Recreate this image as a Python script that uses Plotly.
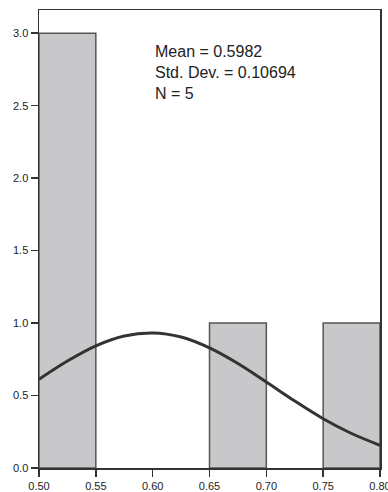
import plotly.graph_objects as go

# Histogram bins (left edge, right edge) and counts
bin_left = [0.50, 0.65, 0.75]
bin_right = [0.55, 0.70, 0.80]
counts = [3, 1, 1]

# Normal curve
curve_x = [0.500, 0.525, 0.550, 0.575, 0.600, 0.625, 0.650, 0.675, 0.700, 0.725, 0.750, 0.775, 0.800]
curve_y = [0.612, 0.738, 0.843, 0.911, 0.932, 0.904, 0.829, 0.721, 0.593, 0.462, 0.340, 0.238, 0.157]

stats_text = ["Mean = 0.5982", "Std. Dev. = 0.10694", "N = 5"]

x_ticks = [0.50, 0.55, 0.60, 0.65, 0.70, 0.75, 0.80]
y_ticks = [0.0, 0.5, 1.0, 1.5, 2.0, 2.5, 3.0]

centers = [(a + b) / 2 for a, b in zip(bin_left, bin_right)]
widths = [b - a for a, b in zip(bin_left, bin_right)]

fig = go.Figure()
fig.add_trace(go.Bar(
    x=centers, y=counts, width=widths,
    marker=dict(color="#c8c8ca", line=dict(color="#555555", width=1.5)),
    showlegend=False, hoverinfo="skip",
))
fig.add_trace(go.Scatter(
    x=curve_x, y=curve_y, mode="lines",
    line=dict(color="#333333", width=3, shape="spline"),
    showlegend=False, hoverinfo="skip",
))

fig.add_annotation(
    text="<br>".join(stats_text),
    xref="paper", yref="paper", x=0.334, y=0.932,
    xanchor="left", yanchor="top", align="left", showarrow=False,
    font=dict(family="Liberation Sans, Arial, sans-serif", size=16, color="#222222"),
)

axis_common = dict(
    showline=True, linecolor="#333333", linewidth=1.5, mirror=True,
    ticks="outside", ticklen=7, tickcolor="#333333", tickwidth=1.5,
    showgrid=False, zeroline=False, automargin=False,
    ticklabeloverflow="allow",
    tickfont=dict(family="Liberation Sans, Arial, sans-serif", size=11, color="#222222"),
)

fig.update_layout(
    width=388, height=492,
    margin=dict(l=39, r=8, t=10, b=24),
    paper_bgcolor="white", plot_bgcolor="white",
    bargap=0,
    xaxis=dict(range=[0.5, 0.8], tickvals=x_ticks, tickformat=".2f", **axis_common),
    yaxis=dict(range=[0, 3.16], tickvals=y_ticks, tickformat=".1f", **axis_common),
)

# remove the page's default body margin so the figure sits at the top-left corner
fig.write_html(
    "out.html",
    config={"displayModeBar": False, "staticPlot": True},
    post_script="document.body.style.margin='0';document.body.style.overflow='hidden';",
)
